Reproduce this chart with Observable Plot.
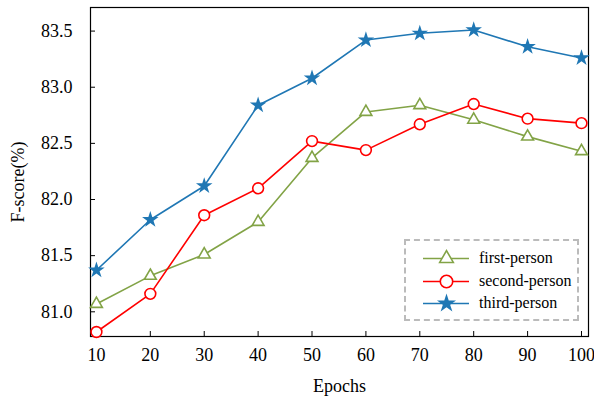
<!DOCTYPE html>
<html>
<head>
<meta charset="utf-8">
<script src="https://cdn.jsdelivr.net/npm/d3@7"></script>
<script src="https://cdn.jsdelivr.net/npm/@observablehq/plot@0.6"></script>
<style>
  body { margin: 0; background: #fff; }
  #wrap { position: relative; width: 594px; height: 397px; font-family: "Liberation Serif", "Times New Roman", serif; }
  #legend { position: absolute; left: 404px; top: 239px; width: 175px; height: 82px; box-sizing: border-box;
            border: 2px dashed #bbbbbb; font-size: 16px; }
  .row { position: absolute; left: 17px; height: 20px; display: flex; align-items: center; }
  .row span { margin-left: 10px; }
  #ylabel { position: absolute; left: 18px; top: 182px; font-size: 18px; white-space: nowrap;
            transform: translate(-50%, -50%) rotate(-90deg); }
</style>
</head>
<body>
<div id="wrap"></div>
<script>
const epochs = [10, 20, 30, 40, 50, 60, 70, 80, 90, 100];
const firstPerson  = [81.07, 81.32, 81.51, 81.80, 82.37, 82.78, 82.84, 82.71, 82.56, 82.43];
const secondPerson = [80.82, 81.16, 81.86, 82.10, 82.52, 82.44, 82.67, 82.85, 82.72, 82.68];
const thirdPerson  = [81.37, 81.82, 82.12, 82.84, 83.08, 83.42, 83.48, 83.51, 83.36, 83.26];
const seriesNames = ["first-person", "second-person", "third-person"];
const seriesColors = ["#82a346", "#ff0000", "#1f77b4"];
const seriesSymbols = ["triangle", "circle", "star"];
const xTicks = [10, 20, 30, 40, 50, 60, 70, 80, 90, 100];
const yTicks = [81.0, 81.5, 82.0, 82.5, 83.0, 83.5];
const xLabel = "Epochs";
const yLabel = "F-score(%)";
const FONT = "'Liberation Serif', 'Times New Roman', serif";

const allSeries = [firstPerson, secondPerson, thirdPerson];
const data = [];
allSeries.forEach((vals, i) => vals.forEach((v, j) => data.push({epoch: epochs[j], value: v, series: seriesNames[i]})));

function symbolDot(d, i, x, y, scale = 1) {
  const sym = seriesSymbols[i];
  if (sym === "star") return Plot.dot(d, {x, y, symbol: "star", r: 5.2 * scale, fill: seriesColors[i], stroke: "none"});
  return Plot.dot(d, {x, y, symbol: sym, r: (sym === "circle" ? 5.4 : 4.4) * scale, fill: "white", stroke: seriesColors[i], strokeWidth: 1.6});
}

const marks = [];
seriesNames.forEach((name, i) => {
  const d = data.filter(r => r.series === name);
  marks.push(Plot.line(d, {x: "epoch", y: "value", stroke: seriesColors[i], strokeWidth: 1.6}));
  marks.push(symbolDot(d, i, "epoch", "value"));
});

const chart = Plot.plot({
  width: 594,
  height: 397,
  marginLeft: 90,
  marginRight: 6,
  marginTop: 7,
  marginBottom: 61,
  style: {fontFamily: FONT, fontSize: "18px", color: "#000", background: "#fff"},
  x: {domain: [8.9, 101.3], ticks: xTicks},
  y: {domain: [80.78, 83.71], ticks: yTicks},
  marks: [
    Plot.frame({stroke: "#000", strokeWidth: 1.2}),
    Plot.axisX({ticks: xTicks, tickSize: -5, tickPadding: 17, tickFormat: d => String(d),
      label: xLabel, labelAnchor: "center", labelArrow: "none", labelOffset: 55}),
    Plot.axisY({ticks: yTicks, tickSize: -5, tickPadding: 23, tickFormat: d3.format(".1f"), label: null}),
    ...marks
  ]
});
const wrap = document.getElementById("wrap");
wrap.appendChild(chart);

const yl = document.createElement("div");
yl.id = "ylabel";
yl.textContent = yLabel;
wrap.appendChild(yl);

// legend overlay
const legend = document.createElement("div");
legend.id = "legend";
seriesNames.forEach((name, i) => {
  const row = document.createElement("div");
  row.className = "row";
  row.style.top = (7 + i * 22.5) + "px";
  const sw = Plot.plot({
    width: 46, height: 20, margin: 0, axis: null,
    x: {domain: [0, 2]}, y: {domain: [0, 2]},
    style: {background: "transparent"},
    marks: [
      Plot.line([[0, 1], [2, 1]], {stroke: seriesColors[i], strokeWidth: 1.6}),
      symbolDot([[1, 1]], i, d => d[0], d => d[1], 1.15)
    ]
  });
  row.appendChild(sw);
  const s = document.createElement("span");
  s.textContent = name;
  row.appendChild(s);
  legend.appendChild(row);
});
wrap.appendChild(legend);
</script>
</body>
</html>
